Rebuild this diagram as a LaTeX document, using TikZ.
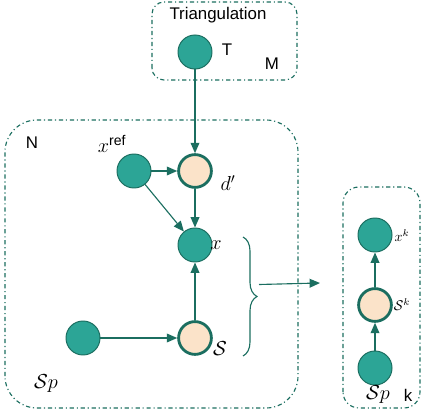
\documentclass[tikz,border=0pt]{standalone}
\usepackage{fontspec}
\usepackage{amsmath}
\newfontfamily\arial{Liberation Sans}
\usetikzlibrary{arrows.meta,decorations.pathreplacing}

\definecolor{tealfill}{HTML}{2CA596}
\definecolor{tealline}{HTML}{1B6E60}
\definecolor{beige}{HTML}{FBE3C9}

\tikzset{
    obsnode/.style={circle, draw=tealline, fill=tealfill, line width=0.7pt, minimum size=0.85cm, inner sep=0pt},
    latnode/.style={circle, draw=tealline, fill=beige, line width=2pt, minimum size=0.82cm, inner sep=0pt},
    platebox/.style={draw=tealline, line width=0.8pt, dash dot, rounded corners=#1},
    edge/.style={draw=tealline, line width=0.8pt, -{Triangle[length=2.6mm,width=2.2mm]}},
    lbl/.style={font=\arial\large}
}

\begin{document}
\begin{tikzpicture}
        \useasboundingbox (0,0) rectangle (10.6,10.25);

        % plates
        \draw[platebox=0.3cm] (3.8,8.25) rectangle (7.425,10.2);
        \draw[platebox=0.8cm] (0.125,0.05) rectangle (7.45,7.25);
        \draw[platebox=0.4cm] (8.575,0.05) rectangle (10.5,5.575);

        \node[lbl] (title) at (5.45,9.875) {Triangulation};
        \node[lbl] (labM) at (6.8,8.65) {M};
        \node[lbl] (labN) at (0.8,6.675) {N};
        \node[lbl] (labk) at (10.2,0.375) {k};

        % left model
        \node[obsnode] (T) at (4.875,8.95) {};
        \node[obsnode] (xref) at (3.35,5.975) {};
        \node[latnode] (d) at (4.875,5.975) {};
        \node[obsnode] (x) at (4.875,4.125) {};
        \node[latnode] (S) at (4.875,1.8) {};
        \node[obsnode] (Sp) at (2.075,1.8) {};

        \node[lbl] (labT) at (5.675,9.0) {T};
        \node (labxref) at (2.8,6.65) {\Large$x^{\text{\arial\normalsize ref}}$};
        \node (labd) at (5.7,5.675) {\Large$d'$};
        \node (labx) at (5.4,4.125) {\Large$x$};
        \node (labS) at (5.5,1.525) {\Large$\mathcal{S}$};
        \node (labSp) at (1.15,0.65) {\Large$\mathcal{S}p$};

        \draw[edge] (T) -- (d);
        \draw[edge] (xref) -- (d);
        \draw[edge] (xref) -- (x);
        \draw[edge] (d) -- (x);
        \draw[edge] (S) -- (x);
        \draw[edge] (Sp) -- (S);

        % brace and arrow
        \draw[tealline, line width=0.8pt, decorate, decoration={brace, amplitude=0.35cm}]
            (6.075,4.325) -- coordinate[xshift=0.4cm] (tip) (6.075,1.35);
        \coordinate (arrend) at (8.0,3.175);
        \draw[edge] ([yshift=0.3cm]tip) -- (arrend);

        % right model
        \node[obsnode] (xk) at (9.375,4.375) {};
        \node[latnode] (Sk) at (9.375,2.625) {};
        \node[obsnode] (Spk) at (9.375,1.05) {};

        \node (labxk) at (10.05,4.35) {$x^k$};
        \node (labSk) at (10.05,2.625) {$\mathcal{S}^k$};
        \node (labSpk) at (9.45,0.375) {\Large$\mathcal{S}p$};

        \draw[edge] (Sk) -- (xk);
        \draw[edge] (Spk) -- (Sk);
\end{tikzpicture}
\end{document}
